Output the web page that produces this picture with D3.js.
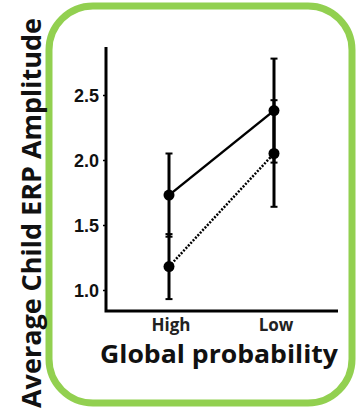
<!DOCTYPE html>
<html>
<head>
<meta charset="utf-8">
<script src="https://cdn.jsdelivr.net/npm/d3@7"></script>
<style>
  body { margin: 0; background: #fff; }
  svg { display: block; }
</style>
</head>
<body>
<div id="chart"></div>
<script>
// data
const categories = ['High', 'Low'];
const solidMeans = [1.73, 2.38];
const solidErr = [0.32, 0.40];
const dottedMeans = [1.18, 2.05];
const dottedErr = [0.25, 0.41];
const yTicks = [1.0, 1.5, 2.0, 2.5];

const svg_width = 357;
const svg_height = 410;

const svg = d3.select('#chart').append('svg')
    .attr('width', svg_width).attr('height', svg_height);

// green rounded frame
svg.append('rect')
    .attr('x', 49).attr('y', 6)
    .attr('width', 303).attr('height', 397)
    .attr('rx', 44).attr('ry', 44)
    .style('fill', 'none')
    .style('stroke', '#92d050')
    .style('stroke-width', 7);

// scales
const yScale = d3.scaleLinear().domain([1.0, 2.5]).range([290, 95]);
const xScale = d3.scalePoint().domain(categories).range([169, 274]);

const axisLeftX = 106;
const axisBottomY = 311;

// y axis
const yAxis = d3.axisLeft(yScale).tickValues(yTicks)
    .tickFormat(d3.format('.1f')).tickSizeInner(3).tickSizeOuter(0).tickPadding(4);
const yAxisDraw = svg.append('g').attr('transform', `translate(${axisLeftX},0)`).call(yAxis);
yAxisDraw.select('.domain').remove();
yAxisDraw.selectAll('line').style('stroke', '#000').style('stroke-width', 1.5);
yAxisDraw.selectAll('text')
    .attr('dy', '0.36em')
    .style('font-family', '"Liberation Sans", Arial, sans-serif')
    .style('font-weight', 'bold').style('font-size', '18px').style('fill', '#111');

// axis lines
svg.append('path')
    .attr('d', `M${axisLeftX},47 V${axisBottomY} H338`)
    .style('fill', 'none').style('stroke', '#000').style('stroke-width', 3);

// x labels
svg.selectAll('.xlab').data(categories).enter().append('text')
    .attr('class', 'xlab')
    .attr('x', d => xScale(d) + 2).attr('y', 331)
    .attr('text-anchor', 'middle')
    .style('font-family', '"Open Sans", sans-serif')
    .style('font-weight', 'bold').style('font-size', '17px').style('fill', '#222')
    .text(d => d);

// titles
svg.append('text')
    .attr('x', 219).attr('y', 363)
    .attr('text-anchor', 'middle')
    .attr('textLength', 238).attr('lengthAdjust', 'spacingAndGlyphs')
    .style('font-family', '"Open Sans", sans-serif')
    .style('font-weight', 'bold').style('font-size', '25px').style('fill', '#111')
    .text('Global probability');

svg.append('text')
    .attr('transform', 'translate(41,213) rotate(-90)')
    .attr('text-anchor', 'middle')
    .attr('textLength', 390).attr('lengthAdjust', 'spacingAndGlyphs')
    .style('font-family', '"Open Sans", sans-serif')
    .style('font-weight', 'bold').style('font-size', '27px').style('fill', '#111')
    .text('Average Child ERP Amplitude');

// series
function drawSeries(means, errs, dash) {
    const pts = categories.map((c, i) => ({ c, m: means[i], e: errs[i] }));
    const g = svg.append('g');
    // error bars
    pts.forEach(p => {
        const x = xScale(p.c);
        g.append('line')
            .attr('x1', x).attr('x2', x)
            .attr('y1', yScale(p.m + p.e)).attr('y2', yScale(p.m - p.e))
            .style('stroke', '#000').style('stroke-width', 3);
        [p.m + p.e, p.m - p.e].forEach(v => {
            g.append('line')
                .attr('x1', x - 3.5).attr('x2', x + 3.5)
                .attr('y1', yScale(v)).attr('y2', yScale(v))
                .style('stroke', '#000').style('stroke-width', 2);
        });
    });
    g.append('path')
        .datum(pts)
        .attr('d', d3.line().x(d => xScale(d.c)).y(d => yScale(d.m)))
        .style('fill', 'none').style('stroke', '#000')
        .style('stroke-width', 2.5)
        .style('stroke-dasharray', dash);
    g.selectAll('circle').data(pts).enter().append('circle')
        .attr('cx', d => xScale(d.c)).attr('cy', d => yScale(d.m))
        .attr('r', 5.5).style('fill', '#000');
}
drawSeries(dottedMeans, dottedErr, '2,1.5');
drawSeries(solidMeans, solidErr, null);
</script>
</body>
</html>
